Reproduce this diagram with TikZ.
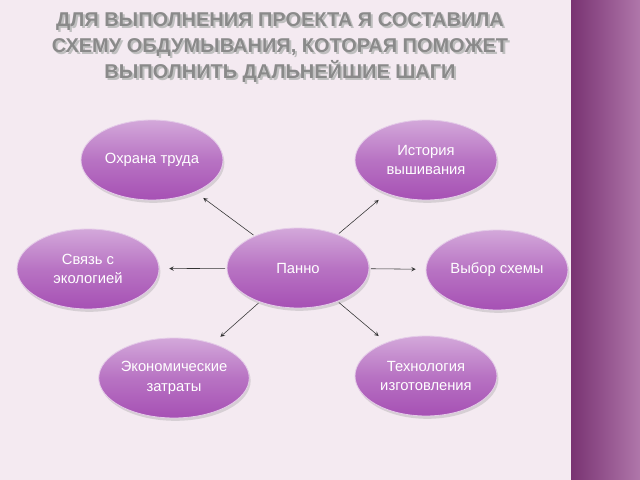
\documentclass[tikz,border=0pt]{standalone}
\usepackage{fontspec}
\setmainfont{Liberation Sans}
\usetikzlibrary{shapes.geometric,shadows}
\definecolor{bgpink}{HTML}{F4EAF1}
\definecolor{bandpurple}{HTML}{8E3C86}
\definecolor{ovaltop}{HTML}{D3A8DA}
\definecolor{ovalbot}{HTML}{A650B4}
\definecolor{titlegray}{HTML}{8A8A8A}
\tikzset{
  oval/.style={ellipse, minimum width=142*0.025cm, minimum height=80*0.025cm, inner sep=0pt,
    top color=ovaltop, bottom color=ovalbot, middle color=ovalbot!80!white,
    draw=white!70!ovalbot, line width=0.6pt, text=white, align=center,
    font=\fontsize{10.5}{14}\selectfont, drop shadow={opacity=0.25, shadow xshift=1pt, shadow yshift=-2pt}},
  link/.style={->, >=stealth, thin, black!80, shorten >=7pt, shorten <=1pt}
}
\begin{document}
\begin{tikzpicture}[x=0.025cm, y=-0.025cm]
  % background
  \fill[bgpink] (0,0) rectangle (640,480);
  \shade[left color=bandpurple!85!black, right color=bandpurple!70!white] (571,0) rectangle (640,480);
  \useasboundingbox (0,0) rectangle (640,480);

  % title
  \node[text=black!25, align=center, font=\bfseries\fontsize{14.2}{18.5}\selectfont] at (282,50)
    {ДЛЯ ВЫПОЛНЕНИЯ ПРОЕКТА Я СОСТАВИЛА\\СХЕМУ ОБДУМЫВАНИЯ, КОТОРАЯ ПОМОЖЕТ\\ВЫПОЛНИТЬ ДАЛЬНЕЙШИЕ ШАГИ};
  \node[text=titlegray, align=center, font=\bfseries\fontsize{14.2}{18.5}\selectfont] (title) at (280,48)
    {ДЛЯ ВЫПОЛНЕНИЯ ПРОЕКТА Я СОСТАВИЛА\\СХЕМУ ОБДУМЫВАНИЯ, КОТОРАЯ ПОМОЖЕТ\\ВЫПОЛНИТЬ ДАЛЬНЕЙШИЕ ШАГИ};

  % ovals
  \node[oval] (panno) at (298,268) {Панно};
  \node[oval] (ohrana) at (152,160) {Охрана труда};
  \node[oval] (istoria) at (426,160) {История\\вышивания};
  \node[oval] (svyaz) at (88,269) {Связь с\\экологией};
  \node[oval] (vybor) at (497,270) {Выбор схемы};
  \node[oval] (ekonom) at (174,378) {Экономические\\затраты};
  \node[oval] (tehno) at (426,376) {Технология\\изготовления};

  % links
  \draw[link] (panno) -- (ohrana);
  \draw[link] (panno) -- (istoria);
  \draw[link] (panno) -- (svyaz);
  \draw[link] (panno) -- (vybor);
  \draw[link] (panno) -- (ekonom);
  \draw[link] (panno) -- (tehno);
\end{tikzpicture}
\end{document}
